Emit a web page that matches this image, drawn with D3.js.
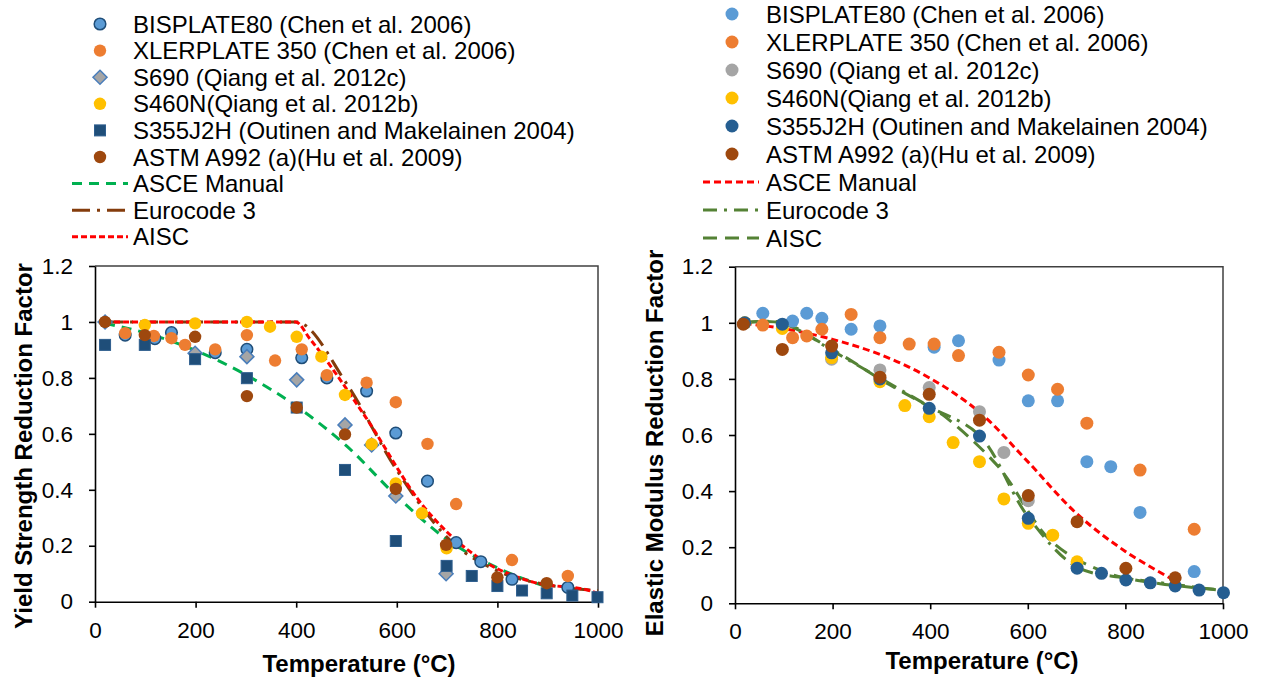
<!DOCTYPE html>
<html>
<head>
<meta charset="utf-8">
<script src="https://cdn.jsdelivr.net/npm/d3@7"></script>
<style>
  body { margin: 0; background: #fff; }
  svg text { font-family: "Liberation Sans", Arial, sans-serif; }
</style>
</head>
<body>
<div id="chart"></div>
<script>
/******************************************************************************
 * Data (temperature in °C, reduction factors)
 *****************************************************************************/

var seriesNames = ['BISPLATE80 (Chen et al. 2006)', 'XLERPLATE 350 (Chen et al. 2006)',
    'S690 (Qiang et al. 2012c)', 'S460N(Qiang et al. 2012b)',
    'S355J2H (Outinen and Makelainen 2004)', 'ASTM A992 (a)(Hu et al. 2009)'];
var curveNames = ['ASCE Manual', 'Eurocode 3', 'AISC'];
var xTicks = [0, 200, 400, 600, 800, 1000];
var yTicks = [0, 0.2, 0.4, 0.6, 0.8, 1, 1.2];

// yield strength panel - test points
var yBisT = [60, 119, 152, 239, 302, 411, 461, 540, 598, 661, 718, 767, 829, 940];
var yBisV = [0.953, 0.94, 0.962, 0.89, 0.902, 0.872, 0.80, 0.753, 0.603, 0.431, 0.211, 0.143, 0.08, 0.051];
var yXleT = [60, 117, 152, 179, 239, 302, 358, 411, 461, 540, 598, 661, 718, 829, 940];
var yXleV = [0.96, 0.95, 0.942, 0.918, 0.902, 0.953, 0.862, 0.902, 0.81, 0.783, 0.713, 0.564, 0.349, 0.149, 0.092];
var yS690T = [20, 199, 302, 401, 497, 550, 598, 698];
var yS690V = [1.0, 0.888, 0.876, 0.793, 0.632, 0.56, 0.378, 0.10];
var yS460T = [99, 199, 302, 348, 401, 450, 497, 550, 598, 650, 699];
var yS460V = [0.989, 0.995, 1.0, 0.983, 0.947, 0.876, 0.739, 0.563, 0.423, 0.316, 0.191];
var yS355T = [20, 99, 199, 302, 401, 497, 598, 699, 749, 800, 849, 898, 949, 999];
var yS355V = [0.918, 0.918, 0.867, 0.799, 0.694, 0.471, 0.217, 0.128, 0.092, 0.056, 0.04, 0.03, 0.022, 0.016];
var yA992T = [20, 99, 199, 302, 401, 497, 598, 698, 800, 898];
var yA992V = [1.0, 0.953, 0.947, 0.735, 0.694, 0.598, 0.403, 0.203, 0.087, 0.066];

// yield strength panel - code curves
var yAsceT = [20, 100, 200, 300, 400, 500, 600, 700, 800, 900];
var yAsceV = [0.995, 0.961, 0.898, 0.811, 0.699, 0.557, 0.377, 0.222, 0.121, 0.052];
var yEcT = [20, 100, 200, 300, 400, 500, 600, 700, 800, 900, 1000];
var yEcV = [1, 1, 1, 1, 1, 0.78, 0.47, 0.23, 0.11, 0.06, 0.04];
var yAiscT = [20, 93, 204, 316, 399, 427, 538, 649, 760, 871, 982, 1000];
var yAiscV = [1, 1, 1, 1, 1, 0.94, 0.66, 0.35, 0.16, 0.07, 0.04, 0.03];

// elastic modulus panel - test points
var eBisT = [57, 118, 147, 178, 238, 297, 408, 458, 541, 601, 661, 721, 770, 830, 941];
var eBisV = [1.034, 1.006, 1.034, 1.016, 0.977, 0.989, 0.913, 0.936, 0.867, 0.722, 0.722, 0.505, 0.487, 0.324, 0.113];
var eXleT = [57, 118, 147, 178, 238, 297, 357, 408, 458, 541, 601, 661, 721, 830, 941];
var eXleV = [0.992, 0.947, 0.953, 0.977, 1.03, 0.947, 0.924, 0.924, 0.883, 0.895, 0.814, 0.763, 0.642, 0.475, 0.264];
var eS690T = [20, 198, 297, 398, 501, 551, 601, 701];
var eS690V = [1.0, 0.87, 0.832, 0.769, 0.683, 0.538, 0.366, 0.13];
var eS460T = [20, 97, 198, 297, 348, 398, 447, 501, 551, 601, 651, 701];
var eS460V = [1.0, 0.98, 0.876, 0.79, 0.705, 0.665, 0.573, 0.505, 0.372, 0.285, 0.243, 0.148];
var eS355T = [20, 97, 198, 297, 398, 501, 601, 701, 751, 801, 851, 902, 951, 1001];
var eS355V = [1.0, 0.995, 0.893, 0.8, 0.695, 0.596, 0.303, 0.125, 0.107, 0.083, 0.073, 0.062, 0.047, 0.038];
var eA992T = [17, 97, 198, 297, 398, 501, 601, 701, 801, 902];
var eA992V = [0.995, 0.905, 0.917, 0.806, 0.745, 0.653, 0.384, 0.291, 0.125, 0.091];

// elastic modulus panel - code curves
var eAsceT = [20, 100, 200, 300, 400, 500, 600, 700, 800, 900];
var eAsceV = [0.998, 0.979, 0.941, 0.885, 0.802, 0.683, 0.505, 0.32, 0.185, 0.082];
var eEcT = [20, 100, 200, 300, 400, 500, 600, 700, 800, 900, 1000];
var eEcV = [1, 1, 0.9, 0.8, 0.7, 0.6, 0.31, 0.13, 0.09, 0.0675, 0.045];
var eAiscT = [20, 93, 204, 316, 399, 427, 538, 649, 760, 871, 982];
var eAiscV = [1, 1, 0.9, 0.78, 0.7, 0.67, 0.49, 0.22, 0.11, 0.07, 0.05];

/******************************************************************************
 * Helpers
 *****************************************************************************/

function zip(ts, vs) {
    return ts.map(function (t, i) { return { t: t, v: vs[i] }; });
}

var svg = d3.select('#chart').append('svg')
    .attr('width', 1262)
    .attr('height', 680);

function drawMarker(g, shape, x, y, st) {
    if (shape == 'circle') {
        g.append('circle')
            .attr('cx', x).attr('cy', y).attr('r', st.r || 6.2)
            .attr('fill', st.fill)
            .attr('stroke', st.stroke || 'none')
            .attr('stroke-width', st.sw || 0);
    } else if (shape == 'square') {
        g.append('rect')
            .attr('x', x - 5.5).attr('y', y - 5.5)
            .attr('width', 11).attr('height', 11)
            .attr('fill', st.fill)
            .attr('stroke', st.stroke || 'none')
            .attr('stroke-width', st.sw || 0);
    } else if (shape == 'diamond') {
        g.append('path')
            .attr('d', 'M' + x + ',' + (y - 7) + 'L' + (x + 7) + ',' + y + 'L' + x + ',' + (y + 7) + 'L' + (x - 7) + ',' + y + 'Z')
            .attr('fill', st.fill)
            .attr('stroke', st.stroke)
            .attr('stroke-width', st.sw);
    }
}

function drawPanel(cfg) {
    var xScale = d3.scaleLinear().domain([0, 1000]).range([cfg.x0, cfg.x1]);
    var yScale = d3.scaleLinear().domain([0, 1.2]).range([cfg.y0, cfg.y1]);

    var g = svg.append('g');

    // plot area frame (top + right)
    g.append('path')
        .attr('d', 'M' + cfg.x0 + ',' + cfg.y1 + 'H' + cfg.x1 + 'V' + cfg.y0)
        .attr('fill', 'none')
        .attr('stroke', '#404040')
        .attr('stroke-width', 1.5);

    var xAxis = d3.axisBottom(xScale).tickValues(xTicks).tickFormat(d3.format('d'))
        .tickSizeInner(6).tickSizeOuter(0).tickPadding(14);
    var yAxis = d3.axisLeft(yScale).tickValues(yTicks).tickFormat(d3.format('~g'))
        .tickSizeInner(6).tickSizeOuter(0).tickPadding(16);

    var xAxisEle = g.append('g')
        .attr('transform', 'translate(0,' + cfg.y0 + ')')
        .call(xAxis);
    var yAxisEle = g.append('g')
        .attr('transform', 'translate(' + cfg.x0 + ',0)')
        .call(yAxis);

    [xAxisEle, yAxisEle].forEach(function (a) {
        a.selectAll('path, line').attr('stroke', '#000').attr('stroke-width', 1.6);
        a.selectAll('text').style('font-size', '22.5px').attr('fill', '#000')
            .style('font-family', '"Liberation Sans", Arial, sans-serif');
    });

    g.append('text')
        .attr('x', cfg.xTitleX).attr('y', cfg.xTitleY)
        .attr('text-anchor', 'middle')
        .style('font-size', '24px').style('font-weight', 'bold')
        .text('Temperature (°C)');

    g.append('text')
        .attr('transform', 'translate(' + cfg.yTitleX + ',' + cfg.yTitleY + ') rotate(-90)')
        .attr('text-anchor', 'middle')
        .style('font-size', '24px').style('font-weight', 'bold')
        .text(cfg.yTitle);

    // code curves
    cfg.curves.forEach(function (c) {
        var line = d3.line()
            .x(function (d) { return xScale(d.t); })
            .y(function (d) { return yScale(d.v); })
            .curve(cfg.curveType);
        g.append('path')
            .datum(zip(c.t, c.v))
            .attr('d', line)
            .attr('fill', 'none')
            .attr('stroke', c.color)
            .attr('stroke-width', 3)
            .attr('stroke-dasharray', c.dash);
    });

    // test points, later series drawn on top
    cfg.points.forEach(function (s) {
        var pg = g.append('g');
        zip(s.t, s.v).forEach(function (d) {
            drawMarker(pg, s.shape, xScale(d.t), yScale(d.v), s);
        });
    });

    // legend
    var lg = svg.append('g').attr('class', 'legend');
    cfg.points.forEach(function (s, i) {
        var yy = cfg.legY + i * cfg.legStep;
        drawMarker(lg, s.shape, cfg.legMarkX, yy, s);
        lg.append('text')
            .attr('x', cfg.legTextX).attr('y', yy + 8.5)
            .style('font-size', '24px')
            .text(seriesNames[i]);
    });
    cfg.curves.forEach(function (c, j) {
        var yy = cfg.legY + (cfg.points.length + j) * cfg.legStep;
        lg.append('line')
            .attr('x1', cfg.legLineX0).attr('x2', cfg.legLineX1)
            .attr('y1', yy).attr('y2', yy)
            .attr('stroke', c.color)
            .attr('stroke-width', 3)
            .attr('stroke-dasharray', c.dash);
        lg.append('text')
            .attr('x', cfg.legTextX).attr('y', yy + 8.5)
            .style('font-size', '24px')
            .text(curveNames[j]);
    });
}

/******************************************************************************
 * Left panel - yield strength
 *****************************************************************************/

drawPanel({
    x0: 95, x1: 598, y0: 601.7, y1: 266,
    xTitleX: 359, xTitleY: 672,
    yTitleX: 32, yTitleY: 446,
    yTitle: 'Yield Strength Reduction Factor',
    curveType: d3.curveMonotoneX,
    legY: 24, legStep: 26.6, legMarkX: 100, legTextX: 133, legLineX0: 72, legLineX1: 128,
    curves: [
        { t: yAsceT, v: yAsceV, color: '#00B050', dash: '10,7' },
        { t: yEcT, v: yEcV, color: '#843C0C', dash: '18,7,3,7' },
        { t: yAiscT, v: yAiscV, color: '#FF0000', dash: '6,3' }
    ],
    points: [
        { t: yBisT, v: yBisV, shape: 'circle', fill: '#5B9BD5', stroke: '#1F4E79', sw: 1.5, r: 5.8 },
        { t: yXleT, v: yXleV, shape: 'circle', fill: '#ED7D31' },
        { t: yS690T, v: yS690V, shape: 'diamond', fill: '#A5A5A5', stroke: '#4A7EBB', sw: 1.5 },
        { t: yS460T, v: yS460V, shape: 'circle', fill: '#FFC000' },
        { t: yS355T, v: yS355V, shape: 'square', fill: '#1F4E79', stroke: '#2E5E8E', sw: 1 },
        { t: yA992T, v: yA992V, shape: 'circle', fill: '#9E480E' }
    ]
});

/******************************************************************************
 * Right panel - elastic modulus
 *****************************************************************************/

drawPanel({
    x0: 735, x1: 1223, y0: 603.3, y1: 266.7,
    xTitleX: 982, xTitleY: 669,
    yTitleX: 663, yTitleY: 443,
    yTitle: 'Elastic Modulus Reduction Factor',
    curveType: d3.curveCatmullRom,
    legY: 14, legStep: 28, legMarkX: 732, legTextX: 766, legLineX0: 703, legLineX1: 759,
    curves: [
        { t: eAsceT, v: eAsceV, color: '#FF0000', dash: '7,4' },
        { t: eEcT, v: eEcV, color: '#548235', dash: '14,7,3,7' },
        { t: eAiscT, v: eAiscV, color: '#548235', dash: '14,8' }
    ],
    points: [
        { t: eBisT, v: eBisV, shape: 'circle', fill: '#5B9BD5', r: 6.5 },
        { t: eXleT, v: eXleV, shape: 'circle', fill: '#ED7D31', r: 6.5 },
        { t: eS690T, v: eS690V, shape: 'circle', fill: '#A5A5A5', r: 6.5 },
        { t: eS460T, v: eS460V, shape: 'circle', fill: '#FFC000', r: 6.5 },
        { t: eS355T, v: eS355V, shape: 'circle', fill: '#255E91', r: 6.5 },
        { t: eA992T, v: eA992V, shape: 'circle', fill: '#9E480E', r: 6.5 }
    ]
});
</script>
</body>
</html>
